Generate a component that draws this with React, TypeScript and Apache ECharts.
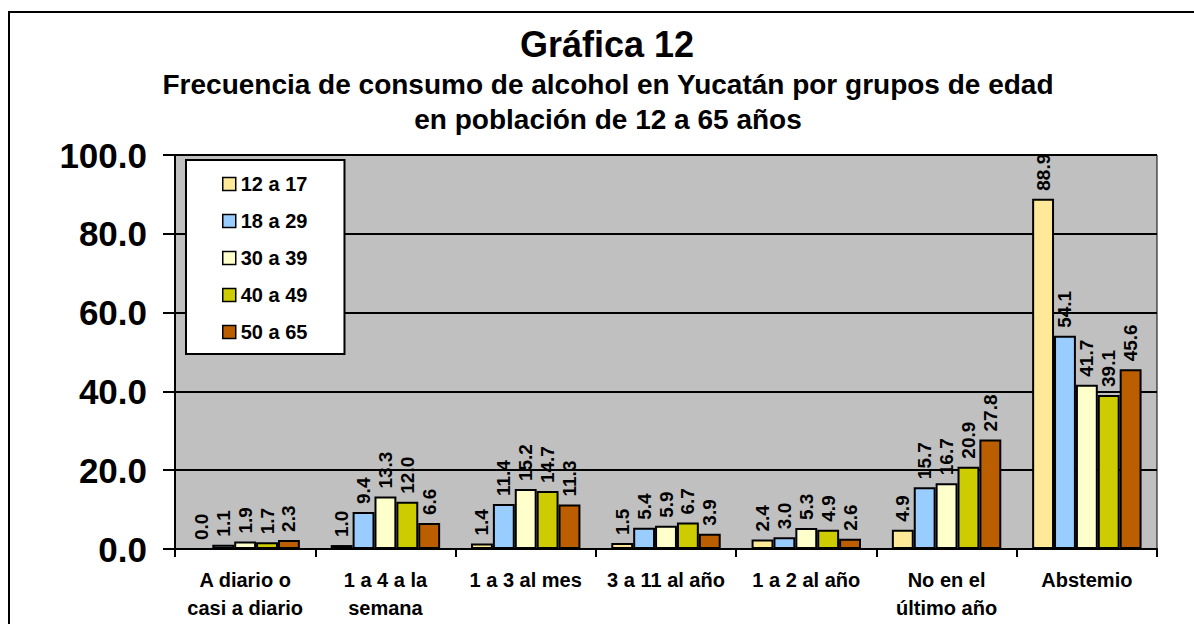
import React, { useEffect, useRef } from "react";
import * as echarts from "echarts";

const categories = [
  "A diario o\ncasi a diario",
  "1 a 4 a la\nsemana",
  "1 a 3 al mes",
  "3 a 11 al año",
  "1 a 2 al año",
  "No en el\núltimo año",
  "Abstemio",
];
const seriesNames = ["12 a 17", "18 a 29", "30 a 39", "40 a 49", "50 a 65"];
const s12a17 = [0.0, 1.0, 1.4, 1.5, 2.4, 4.9, 88.9];
const s18a29 = [1.1, 9.4, 11.4, 5.4, 3.0, 15.7, 54.1];
const s30a39 = [1.9, 13.3, 15.2, 5.9, 5.3, 16.7, 41.7];
const s40a49 = [1.7, 12.0, 14.7, 6.7, 4.9, 20.9, 39.1];
const s50a65 = [2.3, 6.6, 11.3, 3.9, 2.6, 27.8, 45.6];
const seriesData = [s12a17, s18a29, s30a39, s40a49, s50a65];
const colors = ["#FFE999", "#99CCFF", "#FFFFCC", "#CCCC00", "#BB5E00"];
const titleText = "Gráfica 12";
const subtitle1 = "Frecuencia de consumo de alcohol en Yucatán por grupos de edad";
const subtitle2 = "en población de 12 a 65 años";

const FONT = "Arial, 'Liberation Sans', sans-serif";

export default function App() {
  const ref = useRef<HTMLDivElement>(null);
  useEffect(() => {
    if (!ref.current) return;
    const chart = echarts.init(ref.current, undefined, { renderer: "svg" });
    chart.setOption({
      animation: false,
      backgroundColor: "#fff",
      textStyle: { fontFamily: FONT },
      graphic: [
        {
          type: "rect",
          shape: { x: 9, y: 12, width: 1300, height: 800 },
          style: { fill: "none", stroke: "#000", lineWidth: 2 },
          silent: true,
        },
        {
          type: "text",
          x: 607,
          y: 44,
          style: {
            text: titleText,
            font: `bold 36px ${FONT}`,
            fill: "#000",
            textAlign: "center",
            textVerticalAlign: "middle",
          },
        },
        {
          type: "text",
          x: 608,
          y: 84,
          style: {
            text: subtitle1,
            font: `bold 28px ${FONT}`,
            fill: "#000",
            textAlign: "center",
            textVerticalAlign: "middle",
          },
        },
        {
          type: "text",
          x: 608,
          y: 119,
          style: {
            text: subtitle2,
            font: `bold 28px ${FONT}`,
            fill: "#000",
            textAlign: "center",
            textVerticalAlign: "middle",
          },
        },
      ],
      legend: {
        orient: "vertical",
        left: 186,
        top: 160,
        backgroundColor: "#fff",
        borderColor: "#000",
        borderWidth: 2,
        padding: [14, 37, 12, 36],
        itemWidth: 13,
        itemHeight: 13,
        itemGap: 17,
        icon: "rect",
        data: seriesNames,
        itemStyle: { borderColor: "#000", borderWidth: 1.5 },
        textStyle: { fontFamily: FONT, fontWeight: "bold", fontSize: 20, color: "#000" },
      },
      grid: {
        left: 175,
        top: 155,
        right: 37,
        bottom: 75,
        show: true,
        backgroundColor: "#C0C0C0",
        borderColor: "#000",
        borderWidth: 1,
      },
      xAxis: {
        type: "category",
        data: categories,
        axisLine: { lineStyle: { color: "#000", width: 2 } },
        axisTick: { show: true, length: 8, lineStyle: { color: "#000", width: 2 } },
        axisLabel: {
          color: "#000",
          fontFamily: FONT,
          fontWeight: "bold",
          fontSize: 20,
          lineHeight: 28,
          margin: 17,
          interval: 0,
        },
      },
      yAxis: {
        type: "value",
        min: 0,
        max: 100,
        interval: 20,
        axisLine: { show: true, lineStyle: { color: "#000", width: 2 } },
        axisTick: { show: true, length: 12, lineStyle: { color: "#000", width: 2 } },
        axisLabel: {
          color: "#000",
          fontFamily: FONT,
          fontWeight: "bold",
          fontSize: 35,
          margin: 28,
          formatter: (v: number) => v.toFixed(1),
        },
        splitLine: { show: true, lineStyle: { color: "#000", width: 2 } },
      },
      series: seriesNames.map((name, i) => ({
        name,
        type: "bar",
        data: seriesData[i],
        barGap: "0%",
        barCategoryGap: "22%",
        itemStyle: { color: colors[i], borderColor: "#000", borderWidth: 2 },
        label: {
          show: true,
          position: "top",
          rotate: 90,
          align: "left",
          verticalAlign: "middle",
          distance: 8,
          color: "#000",
          fontFamily: FONT,
          fontWeight: "bold",
          fontSize: 19,
          formatter: (p: any) => Number(p.value).toFixed(1),
        },
      })),
    });
    return () => chart.dispose();
  }, []);
  return (
    <div
      ref={ref}
      style={{ position: "fixed", left: 0, top: 0, width: 1194, height: 624 }}
    />
  );
}
